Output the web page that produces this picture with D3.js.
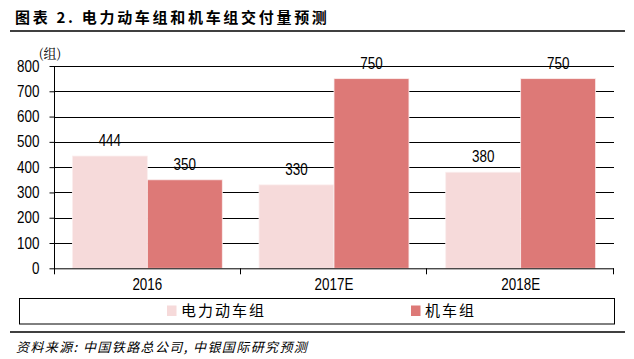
<!DOCTYPE html>
<html><head><meta charset="utf-8">
<script src="https://cdn.jsdelivr.net/npm/d3@7"></script>
<style>body{margin:0;background:#fff}svg{display:block}</style>
</head><body>
<script>
const categories = ["2016", "2017E", "2018E"];
const seriesNames = ["电力动车组", "机车组"];
const emuValues = [444, 330, 380];
const locoValues = [350, 750, 750];
const yTicks = [0, 100, 200, 300, 400, 500, 600, 700, 800];
const colors = ["#F6DADA", "#DD7977"];
const title = "图表 2. 电力动车组和机车组交付量预测";
const unitLabel = "(组)";
const source = "资料来源: 中国铁路总公司, 中银国际研究预测";

const W = 634, H = 359;
const cjk = "'Noto Sans CJK SC', sans-serif";
const num = "'Liberation Sans', Arial, sans-serif";
const SX = 0.84; // horizontal condensing of numerals
const svg = d3.select("body").append("svg").attr("width", W).attr("height", H);

const plot = {left: 54, right: 614, top: 66, bottom: 268.3};
const x0 = d3.scaleBand().domain(categories).range([plot.left, plot.right]).padding(0);
const x1 = d3.scaleBand().domain(seriesNames).range([0, x0.bandwidth()]).paddingInner(0).paddingOuter(0.245);
const y = d3.scaleLinear().domain([0, 800]).range([plot.bottom, plot.top]);

// title
svg.append("text").attr("x", 15).attr("y", 23).attr("font-family", cjk).attr("font-weight", "bold")
  .attr("font-size", 15).attr("letter-spacing", 2.7).attr("fill", "#000").text(title);
svg.append("line").attr("x1", 10).attr("x2", 625).attr("y1", 31).attr("y2", 31).attr("stroke", "#000").attr("stroke-width", 1.5);

// gridlines
svg.append("g").selectAll("line").data(yTicks.filter(d => d > 0)).join("line")
  .attr("x1", plot.left).attr("x2", plot.right).attr("y1", d => Math.round(y(d)) + 0.5).attr("y2", d => Math.round(y(d)) + 0.5)
  .attr("stroke", "#000").attr("stroke-width", 1);

// bars
const seriesData = [emuValues, locoValues];
const groups = svg.append("g").selectAll("g").data(categories).join("g")
  .attr("transform", d => `translate(${x0(d)},0)`);
groups.selectAll("rect").data((c, i) => seriesNames.map((s, j) => ({s, j, v: seriesData[j][i]}))).join("rect")
  .attr("x", d => x1(d.s)).attr("width", x1.bandwidth())
  .attr("y", d => y(d.v)).attr("height", d => y(0) - y(d.v))
  .attr("fill", d => colors[d.j]).attr("stroke", "#fbeeee").attr("stroke-width", 0.8);
groups.selectAll("text").data((c, i) => seriesNames.map((s, j) => ({s, j, v: seriesData[j][i]}))).join("text")
  .attr("transform", d => `translate(${x1(d.s) + x1.bandwidth() / 2},${y(d.v) - 10}) scale(${SX},1)`)
  .attr("text-anchor", "middle").attr("font-family", num).attr("font-size", 16).attr("fill", "#000")
  .text(d => d.v);

// y axis
const yAxis = d3.axisLeft(y).tickValues(yTicks).tickSize(5).tickPadding(10).tickSizeOuter(0);
const gy = svg.append("g").attr("transform", `translate(${plot.left + 0.5},0)`).call(yAxis);
gy.select(".domain").remove();
gy.selectAll(".tick line").attr("stroke", "#000");
gy.selectAll(".tick text").attr("font-family", num).attr("font-size", 16).attr("fill", "#000")
  .attr("x", null).attr("transform", `translate(-15,0) scale(${SX},1)`);
svg.append("line").attr("x1", plot.left + 0.5).attr("x2", plot.left + 0.5).attr("y1", plot.top).attr("y2", plot.bottom + 6)
  .attr("stroke", "#000");

// x axis
svg.append("line").attr("x1", plot.left).attr("x2", plot.right).attr("y1", plot.bottom + 0.5).attr("y2", plot.bottom + 0.5).attr("stroke", "#000");
const bounds = categories.map(c => x0(c)).concat([plot.right]);
svg.append("g").selectAll("line").data(bounds.slice(1)).join("line")
  .attr("x1", d => Math.round(d) - 0.5).attr("x2", d => Math.round(d) - 0.5).attr("y1", plot.bottom).attr("y2", plot.bottom + 6).attr("stroke", "#000");
svg.append("g").selectAll("text").data(categories).join("text")
  .attr("transform", d => `translate(${x0(d) + x0.bandwidth() / 2},290) scale(${SX},1)`).attr("text-anchor", "middle")
  .attr("font-family", num).attr("font-size", 16).attr("fill", "#000").text(d => d);

// unit label
svg.append("text").attr("x", 50).attr("y", 58).attr("text-anchor", "middle").attr("font-family", "'Noto Serif CJK SC', " + cjk)
  .attr("font-size", 13).attr("fill", "#000").text(unitLabel);

// legend
svg.append("rect").attr("x", 19.5).attr("y", 298.5).attr("width", 595).attr("height", 25.5).attr("fill", "none").attr("stroke", "#000");
const legendX = [167, 411];
const lg = svg.append("g").selectAll("g").data(seriesNames).join("g").attr("transform", (d, i) => `translate(${legendX[i]},0)`);
lg.append("rect").attr("x", 0).attr("y", 305.5).attr("width", 9.5).attr("height", 10.5).attr("fill", (d, i) => colors[i]);
lg.append("text").attr("x", 14).attr("y", 316).attr("font-family", cjk).attr("font-size", 15).attr("letter-spacing", 2)
  .attr("fill", "#000").text(d => d);

// source
svg.append("line").attr("x1", 10).attr("x2", 625).attr("y1", 332).attr("y2", 332).attr("stroke", "#000").attr("stroke-width", 1.5);
svg.append("text").attr("x", 16).attr("y", 352).attr("font-family", cjk).attr("font-style", "italic").attr("font-size", 13)
  .attr("letter-spacing", 1.4).attr("fill", "#000").text(source);
</script>
</body></html>
